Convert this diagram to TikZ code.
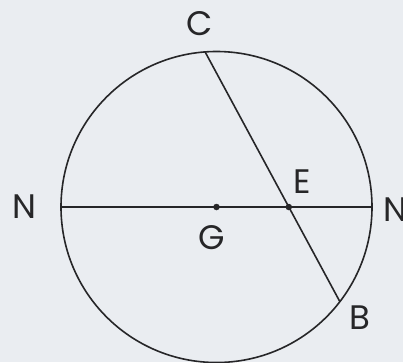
\documentclass[tikz,border=0pt]{standalone}
\usepackage{fontspec}
\setmainfont{Poppins}
\usetikzlibrary{calc}
\definecolor{bg}{RGB}{234,237,241}
\definecolor{ink}{RGB}{38,38,40}
\begin{document}
\begin{tikzpicture}[x=1pt,y=-1pt,
  line/.style={draw=ink,line width=1.6pt},
  lbl/.style={inner sep=0pt,anchor=center,text=ink,font=\fontsize{34}{34}\selectfont},
  dot/.style={fill=ink,circle,inner sep=0pt,minimum size=6.5pt}]
\fill[bg] (0,0) rectangle (403,362);
\useasboundingbox (0,0) rectangle (403,362);
\clip (0,0) rectangle (403,362);
\coordinate (G) at (216.5,207);
\coordinate (N1) at (61,207);
\coordinate (N2) at (372,207);
\coordinate (C) at (205.1,51.9);
\coordinate (B) at (339.9,301.7);
\draw[line] (G) circle (155.5);
\draw[line] (N1) -- (N2);
\draw[line] (C) -- (B);
\coordinate (E) at (intersection of C--B and N1--N2);
\node[dot] (gd) at (G) {};
\node[dot] (ed) at (E) {};
\node[lbl] (lC) at (200,24) {C};
\node[lbl] (lN1) at (24,207) {N};
\node[lbl] (lN2) at (395,210) {N};
\node[lbl] (lG) at (212,238) {G};
\node[lbl] (lE) at (302,182) {E};
\node[lbl] (lB) at (360,318) {B};
\end{tikzpicture}
\end{document}
